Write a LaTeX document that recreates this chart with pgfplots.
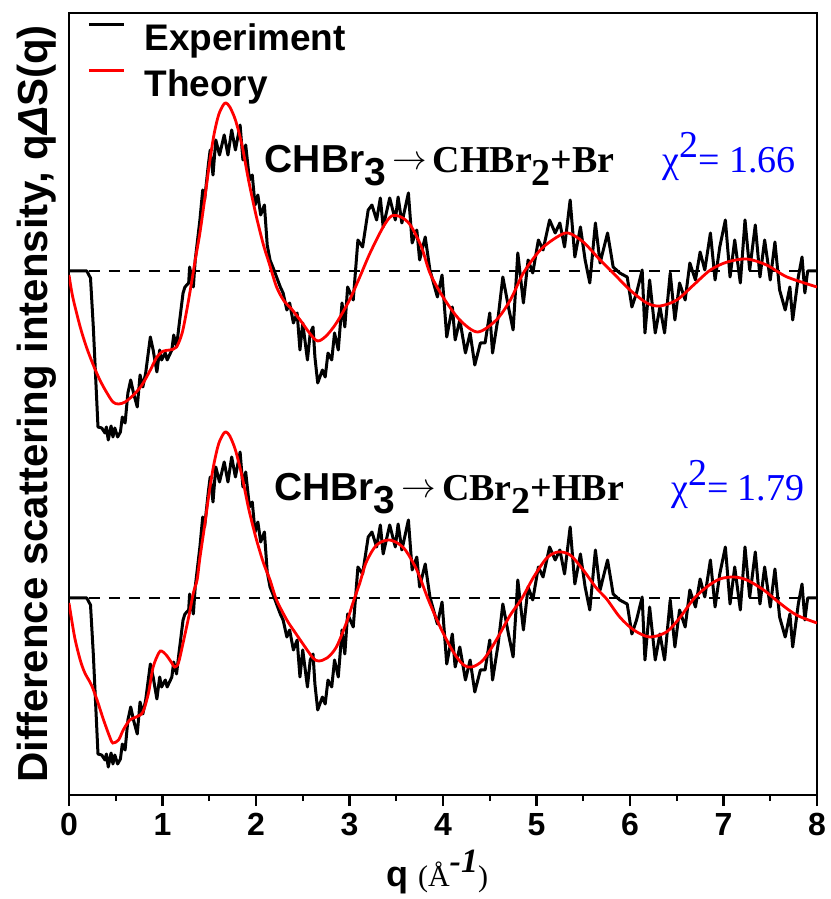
\documentclass[border=0pt]{standalone}
\usepackage{fontspec}
\setmainfont{Liberation Sans}
\newfontfamily\tnr{Liberation Serif}
\usepackage{pgfplots}
\usepackage{pgfplotstable}
\pgfplotsset{compat=1.18}

% measured difference signal (q in 1/Angstrom, d relative to its zero line)
\pgfplotstableread{
q d
0.00 0.00
0.10 0.00
0.19 0.00
0.23 -0.07
0.26 -0.56
0.29 -1.16
0.31 -1.56
0.35 -1.57
0.385 -1.62
0.40 -1.56
0.42 -1.69
0.45 -1.55
0.47 -1.66
0.49 -1.57
0.52 -1.66
0.55 -1.61
0.57 -1.46
0.60 -1.52
0.63 -1.22
0.66 -1.09
0.69 -1.22
0.73 -1.36
0.76 -1.04
0.79 -1.16
0.82 -1.02
0.87 -0.66
0.90 -0.79
0.94 -1.01
0.97 -0.79
0.99 -0.89
1.03 -0.82
1.05 -0.89
1.10 -0.79
1.12 -0.64
1.15 -0.76
1.18 -0.52
1.22 -0.22
1.24 -0.16
1.28 -0.12
1.29 0.04
1.33 -0.16
1.35 0.11
1.40 0.51
1.43 0.81
1.45 0.71
1.49 1.06
1.51 1.21
1.54 0.96
1.57 1.31
1.61 1.16
1.66 1.36
1.70 1.16
1.74 1.41
1.78 1.21
1.81 1.36
1.83 1.46
1.86 1.11
1.89 1.26
1.93 0.91
1.96 0.96
1.99 0.66
2.02 0.76
2.05 0.56
2.09 0.66
2.12 0.26
2.15 0.11
2.18 0.04
2.26 -0.16
2.29 -0.22
2.33 -0.39
2.36 -0.32
2.40 -0.52
2.44 -0.42
2.47 -0.79
2.50 -0.52
2.55 -0.89
2.58 -0.62
2.61 -0.56
2.63 -0.86
2.66 -1.12
2.71 -0.99
2.74 -1.06
2.77 -0.82
2.81 -0.89
2.84 -0.62
2.88 -0.79
2.92 -0.32
2.95 -0.56
2.98 -0.16
3.04 -0.29
3.09 0.31
3.14 0.24
3.20 0.61
3.24 0.66
3.29 0.51
3.33 0.73
3.36 0.44
3.43 0.73
3.49 0.51
3.52 0.74
3.56 0.48
3.63 0.78
3.67 0.28
3.72 0.41
3.75 0.11
3.81 0.34
3.86 0.01
3.94 -0.26
3.99 -0.04
4.04 -0.66
4.10 -0.36
4.13 -0.69
4.18 -0.49
4.24 -0.82
4.29 -0.62
4.34 -0.94
4.40 -0.72
4.45 -0.72
4.50 -0.42
4.53 -0.82
4.59 -0.46
4.64 -0.06
4.70 -0.36
4.75 -0.59
4.80 0.18
4.86 -0.32
4.91 0.11
4.96 -0.02
5.02 0.31
5.07 0.21
5.14 0.51
5.20 0.38
5.25 0.48
5.30 0.24
5.36 0.71
5.41 0.14
5.47 0.44
5.52 0.11
5.57 -0.12
5.63 0.48
5.68 0.08
5.76 0.38
5.82 0.04
5.89 -0.02
5.97 -0.06
6.02 -0.36
6.07 -0.22
6.13 0.01
6.16 -0.62
6.21 -0.09
6.27 -0.62
6.32 -0.36
6.37 -0.62
6.43 -0.02
6.48 -0.49
6.53 -0.12
6.59 -0.29
6.64 0.08
6.70 -0.09
6.75 0.19
6.80 0.01
6.86 0.38
6.91 -0.09
6.96 0.24
7.02 0.51
7.07 -0.06
7.12 0.31
7.18 -0.12
7.23 0.51
7.28 0.01
7.34 0.46
7.39 -0.06
7.44 0.31
7.50 -0.09
7.55 0.29
7.60 -0.19
7.66 -0.39
7.71 -0.16
7.74 -0.49
7.80 -0.06
7.84 0.14
7.87 -0.22
7.90 0.00
8.00 0.00
}\expdata

% theory, channel CHBr3 -> CHBr2 + Br
\pgfplotstableread{
q d
0.00 -0.04
0.04 -0.26
0.12 -0.56
0.19 -0.77
0.26 -0.94
0.33 -1.09
0.40 -1.21
0.47 -1.31
0.53 -1.33
0.60 -1.31
0.69 -1.24
0.78 -1.14
0.87 -0.99
0.94 -0.86
1.01 -0.80
1.08 -0.79
1.15 -0.76
1.21 -0.62
1.26 -0.39
1.31 -0.12
1.35 0.11
1.40 0.38
1.45 0.71
1.50 1.06
1.55 1.36
1.60 1.56
1.65 1.66
1.68 1.68
1.72 1.64
1.78 1.51
1.85 1.26
1.92 0.91
2.00 0.56
2.08 0.26
2.14 0.08
2.22 -0.16
2.30 -0.30
2.38 -0.38
2.48 -0.50
2.58 -0.63
2.66 -0.70
2.75 -0.65
2.86 -0.52
3.00 -0.29
3.11 -0.06
3.22 0.18
3.36 0.44
3.45 0.55
3.55 0.54
3.65 0.46
3.77 0.24
3.86 -0.02
4.00 -0.26
4.18 -0.49
4.37 -0.61
4.57 -0.49
4.72 -0.29
4.86 -0.02
5.04 0.21
5.22 0.34
5.34 0.38
5.50 0.29
5.68 0.11
5.82 -0.02
6.00 -0.19
6.18 -0.32
6.32 -0.35
6.50 -0.29
6.68 -0.14
6.86 0.01
7.04 0.09
7.25 0.12
7.46 0.06
7.68 -0.06
8.00 -0.16
}\thA

% theory, channel CHBr3 -> CBr2 + HBr
\pgfplotstableread{
q d
0.00 -0.05
0.06 -0.39
0.12 -0.62
0.17 -0.75
0.24 -0.87
0.30 -1.02
0.37 -1.22
0.44 -1.40
0.47 -1.45
0.53 -1.42
0.58 -1.32
0.65 -1.22
0.72 -1.19
0.79 -1.14
0.85 -0.95
0.90 -0.69
0.96 -0.55
0.99 -0.53
1.04 -0.57
1.10 -0.65
1.13 -0.69
1.17 -0.65
1.22 -0.45
1.28 -0.19
1.33 0.05
1.37 0.18
1.40 0.40
1.45 0.72
1.50 1.06
1.55 1.34
1.60 1.54
1.65 1.64
1.68 1.66
1.72 1.62
1.78 1.48
1.85 1.22
1.92 0.90
2.00 0.60
2.08 0.35
2.15 0.18
2.22 -0.02
2.33 -0.22
2.40 -0.32
2.51 -0.47
2.61 -0.60
2.67 -0.63
2.76 -0.60
2.86 -0.49
2.97 -0.24
3.04 -0.04
3.11 0.15
3.18 0.36
3.29 0.53
3.43 0.58
3.58 0.50
3.72 0.28
3.84 -0.01
3.97 -0.29
4.11 -0.54
4.22 -0.67
4.31 -0.69
4.43 -0.62
4.57 -0.42
4.72 -0.17
4.84 -0.01
4.97 0.21
5.11 0.40
5.23 0.46
5.36 0.43
5.50 0.28
5.64 0.10
5.75 -0.01
5.89 -0.19
6.04 -0.32
6.21 -0.39
6.39 -0.34
6.53 -0.20
6.68 -0.01
6.82 0.11
6.96 0.19
7.11 0.21
7.25 0.18
7.43 0.08
7.60 -0.05
7.78 -0.17
8.00 -0.25
}\thB

\definecolor{thred}{RGB}{255,0,0}
\definecolor{chiblue}{RGB}{0,0,255}

\newcommand{\channelarrow}{\raisebox{1.5pt}{\fontsize{17}{19}\selectfont$\rightarrow$}}

\begin{document}
\begin{tikzpicture}
\begin{axis}[
  name=ax,
  scale only axis,
  width=374pt, height=391pt,
  xmin=0, xmax=8, ymin=0, ymax=7.82,
  xtick={0,1,...,8},
  minor xtick={0.5,1.5,...,7.5},
  ytick=\empty,
  xtick pos=left,
  tick align=outside,
  major tick length=5.5pt,
  minor tick length=3pt,
  every tick/.style={black, line width=1.2pt},
  axis line style={line width=1.3pt},
  /pgf/number format/assume math mode=true,
  xticklabel style={font=\fontsize{16}{19}\selectfont\bfseries},
  xlabel={{\bfseries q} {\tnr\fontsize{15}{18}\selectfont(Å\raisebox{0.45em}{\fontsize{17}{20}\selectfont\bfseries\itshape -1})}},
  every axis x label/.style={at={(axis description cs:0.4144,-0.1164)}, anchor=base west, font=\fontsize{18}{22}\selectfont},
  ylabel={Difference scattering intensity, q\textit{Δ}S(q)},
  every axis y label/.style={at={(axis description cs:-0.0294,0.5)}, rotate=90, anchor=base, font=\fontsize{21}{25}\selectfont\bfseries},
  legend style={draw=none, fill=none, at={(axis description cs:0,1)}, anchor=north west,
    xshift=9pt, yshift=-5pt, font=\fontsize{18.5}{22}\selectfont\bfseries,
    inner sep=0pt, row sep=7.5pt, column sep=9.5pt, nodes={inner sep=0pt}},
  legend cell align=left,
  legend image code/.code={\draw[#1] (0pt,7pt) -- (17.5pt,7pt);},
]
% zero lines of the two offset traces
\addplot[black, line width=1.2pt, dash pattern=on 5.5pt off 4.5pt, forget plot] coordinates {(0,5.24) (8,5.24)};
\addplot[black, line width=1.2pt, dash pattern=on 5.5pt off 4.5pt, forget plot] coordinates {(0,1.97) (8,1.97)};

\addplot[black, line width=1.5pt, line join=round] table[x=q, y expr=\thisrow{d}+5.24] {\expdata};
\addlegendentry{Experiment}
\addplot[black, line width=1.5pt, line join=round, forget plot] table[x=q, y expr=\thisrow{d}+1.97] {\expdata};

\addplot[thred, line width=1.4pt, smooth] table[x=q, y expr=\thisrow{d}+5.24] {\thA};
\addlegendentry{Theory}
\addplot[thred, line width=1.4pt, smooth, forget plot] table[x=q, y expr=\thisrow{d}+1.97] {\thB};

\node[anchor=base west, inner sep=0pt] at (axis cs:2.09,6.22)
  {\fontsize{19.5}{23}\selectfont\bfseries CHBr\raisebox{-0.33em}{3}\hspace{3pt}\channelarrow\hspace{3pt}{\tnr\bfseries\fontsize{19}{23}\selectfont CHBr\raisebox{-0.33em}{2}+Br}};
\node[anchor=base east, inner sep=0pt, text=chiblue] at (axis cs:7.78,6.22)
  {\tnr\fontsize{19}{23}\selectfont χ\raisebox{0.42em}{2}= 1.66};
\node[anchor=base west, inner sep=0pt] at (axis cs:2.19,2.94)
  {\fontsize{19.5}{23}\selectfont\bfseries CHBr\raisebox{-0.33em}{3}\hspace{3pt}\channelarrow\hspace{3pt}{\tnr\bfseries\fontsize{19}{23}\selectfont CBr\raisebox{-0.33em}{2}+HBr}};
\node[anchor=base east, inner sep=0pt, text=chiblue] at (axis cs:7.87,2.94)
  {\tnr\fontsize{19}{23}\selectfont χ\raisebox{0.42em}{2}= 1.79};
\end{axis}
\pgfresetboundingbox
\path[use as bounding box] ([xshift=-34.5pt,yshift=-52pt]ax.south west) rectangle ([xshift=6.5pt,yshift=6.5pt]ax.north east);
\end{tikzpicture}
\end{document}
